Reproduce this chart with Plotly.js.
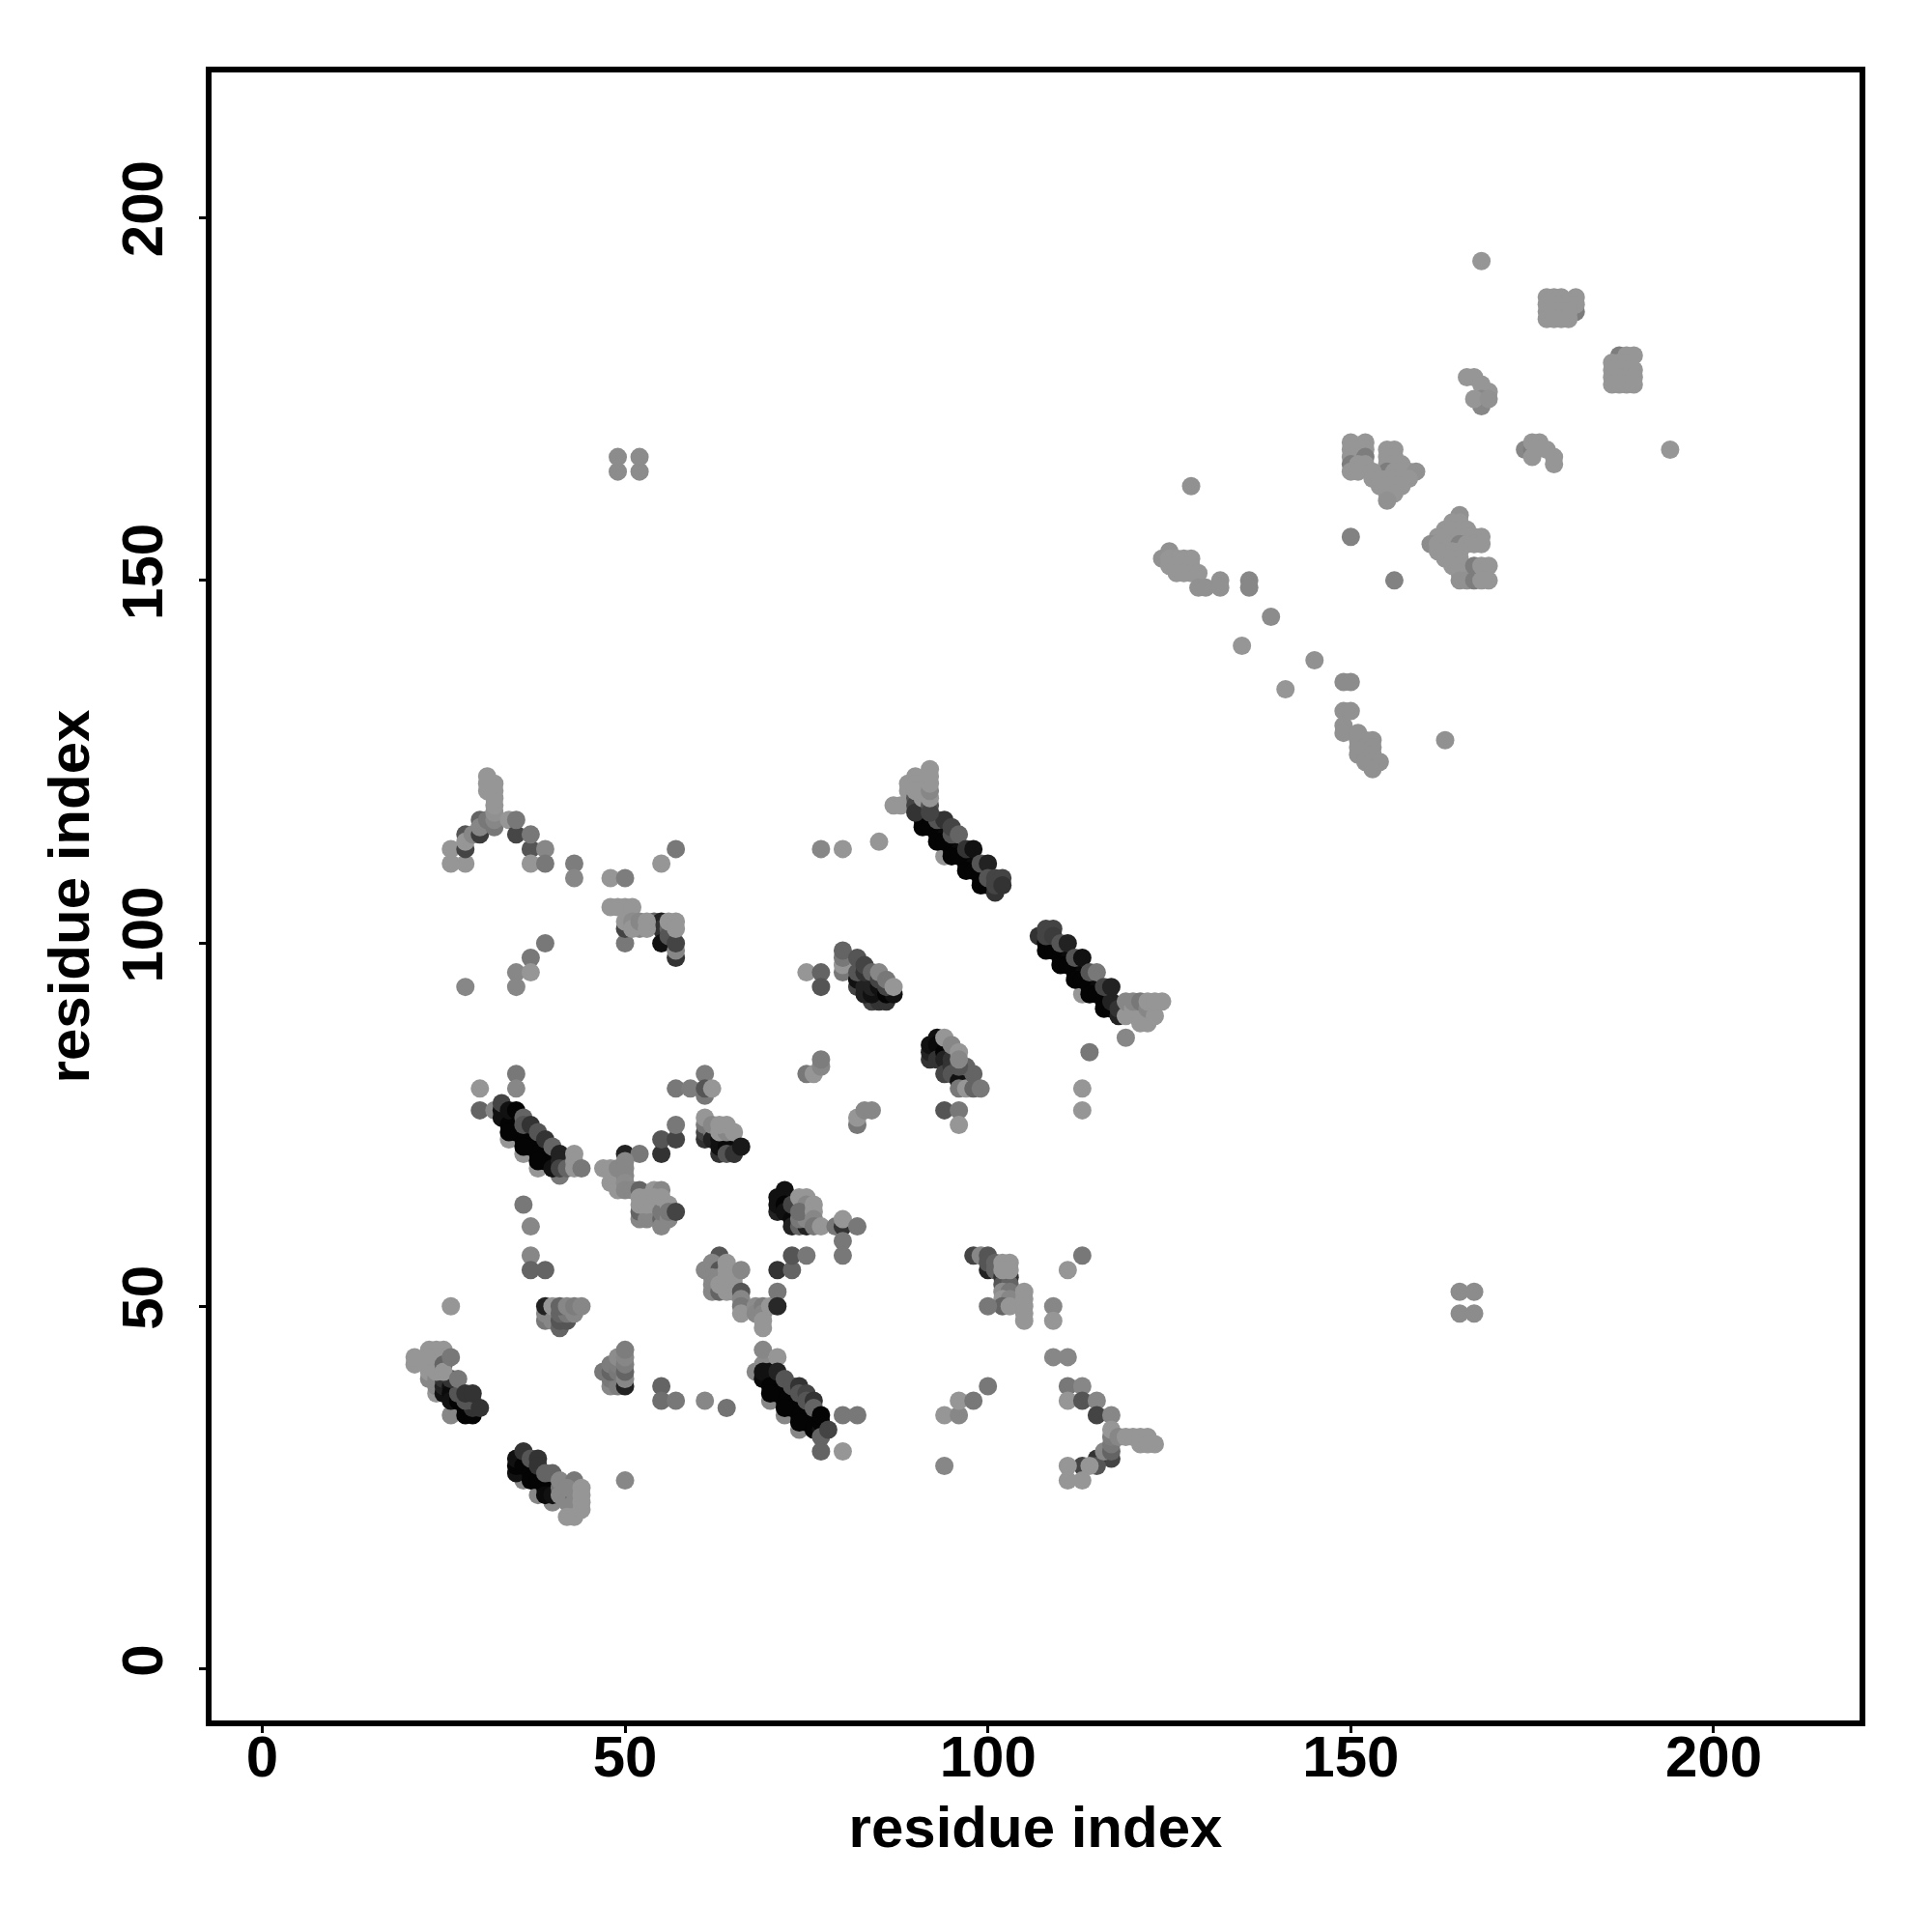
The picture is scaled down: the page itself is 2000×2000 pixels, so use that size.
<!DOCTYPE html>
<html><head><meta charset="utf-8">
<script src="https://cdn.plot.ly/plotly-3.0.1.min.js"></script>
<style>html,body{margin:0;padding:0;background:#fff}</style></head>
<body><div id="chart" style="width:2000px;height:2000px"></div>
<script>
// each entry: [residue i, residue j, grey shade of the contact]
const triTop=[[26,113,150],[26,111,150],[28,111,150],[28,113,68],[28,115,85],[28,114,150],[29,115,135],[30,115,60],[30,117,100],[30,116,135],[31,117,120],[32,116,120],[32,117,135],[32,118,145],[32,119,150],[32,120,150],[32,121,150],[32,122,150],[31,121,150],[31,122,150],[31,123,150],[34,117,150],[35,115,70],[35,117,120],[37,113,85],[37,111,150],[37,115,120],[39,113,135],[39,111,120]];
const sparseA=[[43,111,125],[43,109,135],[48,109,150],[50,109,125],[57,113,120],[55,111,150],[77,113,135],[80,113,150],[85,114,150],[39,100,120],[37,98,120],[35,96,135],[37,96,150],[35,94,135],[28,94,135],[75,96,150],[77,96,100],[77,94,85]];
const clusterC=[[50,100,120],[50,102,68],[52,102,135],[54,103,100],[55,103,34],[55,102,51],[56,102,100],[55,100,17],[56,101,85],[57,98,51],[57,99,135],[57,100,68],[48,105,150],[49,105,150],[50,105,150],[51,105,150],[50,103,150],[51,103,140],[51,102,150],[52,103,135],[53,102,150],[53,103,150],[56,103,150],[57,103,150],[57,102,150]];
const clusterE=[[80,96,120],[80,97,150],[80,98,120],[80,99,100],[82,94,68],[84,92,68],[85,92,51],[86,92,51],[82,95,17],[83,93,34],[83,94,34],[84,93,17],[84,94,34],[85,94,17],[86,93,4],[87,93,17],[82,96,85],[82,98,85],[83,96,51],[83,97,68],[84,96,100],[85,95,68],[86,94,68],[85,96,135],[86,95,120],[87,94,150]];
const bandF=[[94,112,150],[91,118,34],[91,117,17],[93,115,10],[95,113,10],[97,111,10],[99,109,10],[91,116,4],[92,116,4],[93,114,4],[94,114,4],[95,112,4],[96,112,4],[97,110,4],[98,110,4],[99,108,4],[100,108,4],[101,107,51],[93,117,85],[94,117,51],[95,115,85],[95,116,68],[96,115,100],[97,113,51],[98,113,17],[99,111,85],[100,111,34],[100,109,85],[101,108,68],[101,109,68],[102,109,68],[102,108,51],[87,119,150],[88,119,150],[89,122,150],[89,121,150],[90,120,85],[90,119,68],[90,118,51],[90,123,150],[90,122,150],[90,121,150],[91,120,150],[92,119,85],[92,118,68],[92,120,150],[92,121,135],[92,122,150],[92,123,150],[92,124,150]];
const bandG=[[107,101,51],[113,93,150],[108,100,10],[110,98,10],[112,96,10],[114,94,10],[116,92,10],[108,99,4],[109,99,4],[110,97,4],[111,97,4],[112,95,4],[113,95,4],[114,93,4],[115,93,4],[116,91,4],[117,91,4],[117,92,34],[118,90,34],[118,91,51],[108,102,68],[109,102,68],[108,101,68],[109,101,60],[110,100,85],[111,100,34],[112,98,85],[113,98,17],[114,96,85],[115,96,120],[116,94,68],[117,94,34],[119,87,135],[119,90,150],[119,92,135],[120,91,150],[121,89,150],[122,89,150],[120,92,135],[121,92,120],[122,91,135],[122,92,150],[123,90,150],[123,92,150],[124,92,150],[114,85,120],[113,80,150],[113,77,150]];
const clusterH=[[92,84,51],[92,85,34],[92,86,17],[93,87,17],[93,86,10],[93,84,51],[94,85,4],[94,84,34],[95,84,51],[94,82,68],[95,83,51],[95,82,85],[96,81,17],[96,80,120],[97,80,150],[98,80,100],[97,83,100],[98,82,100],[99,80,120],[96,83,85],[94,87,150],[95,86,135],[96,85,150],[96,84,135]];
const sparseI=[[75,82,120],[76,82,150],[77,83,135],[77,84,125],[82,75,120],[82,76,150],[83,77,135],[84,77,135],[94,77,85],[96,77,120],[96,75,150]];
const bandJ=[[35,82,120],[35,80,135],[30,80,150],[30,77,100],[32,77,135],[34,73,150],[36,71,150],[38,69,150],[41,68,120],[34,76,85],[35,75,85],[36,74,85],[37,73,85],[38,72,85],[39,71,85],[40,70,85],[33,77,17],[33,76,17],[34,75,4],[35,74,4],[36,73,4],[37,72,4],[38,71,4],[39,70,4],[34,74,4],[36,72,4],[38,70,4],[40,69,17],[33,78,68],[34,77,17],[35,77,4],[36,76,100],[36,75,85],[37,75,51],[38,74,85],[39,73,51],[40,72,100],[41,71,34],[41,70,34],[41,69,68],[42,69,100],[43,71,150],[43,70,150],[43,69,150],[44,69,120]];
const clusterK=[[50,71,34],[52,71,120],[47,69,150],[48,69,150],[49,68,150],[48,67,150],[49,69,135],[50,70,135],[50,69,135],[50,68,135],[49,66,150],[50,67,140],[50,66,135],[51,66,135],[52,66,100],[54,66,150],[55,66,135],[52,62,135],[52,63,100],[53,62,135],[52,64,150],[52,65,150],[53,65,150],[54,65,150],[53,64,150],[54,64,150],[55,62,100],[55,61,135],[55,63,120],[56,62,135],[56,64,150],[55,65,150],[56,63,120],[57,63,68]];
const sparseL=[[55,71,51],[55,73,85],[57,73,68],[57,75,120],[57,80,120],[59,80,125],[61,82,125],[61,79,120],[61,80,85],[62,80,150]];
const clusterM=[[61,73,51],[61,74,68],[61,75,120],[61,76,150],[62,74,120],[62,73,34],[63,71,51],[63,72,17],[63,73,17],[64,72,10],[64,71,85],[65,71,51],[62,75,135],[63,74,150],[64,74,135],[63,75,150],[64,75,150],[65,74,150],[66,72,25]];
const clusterN=[[71,63,34],[71,64,17],[71,65,17],[72,66,17],[72,64,4],[72,63,17],[73,62,10],[73,61,34],[74,61,100],[75,61,34],[74,62,120],[75,62,135],[73,64,68],[74,65,150],[75,65,150],[75,64,135],[74,63,110],[76,64,150],[76,63,150],[76,62,135],[76,61,120],[77,61,150],[79,61,120],[80,61,51],[80,62,150],[82,61,120],[80,59,120],[80,57,120]];
const sparseO=[[36,64,120],[37,61,135],[37,57,135],[37,55,100],[39,55,100],[26,50,150]];
const clusterP=[[39,48,120],[39,49,135],[39,50,34],[40,48,135],[40,50,150],[41,47,100],[41,48,85],[42,48,85],[41,49,100],[42,49,120],[41,50,100],[42,50,135],[43,49,135],[43,50,125],[44,50,135]];
const clusterQ=[[63,57,85],[61,55,135],[62,56,135],[63,55,85],[64,56,150],[62,54,135],[63,54,135],[62,52,135],[62,53,135],[63,52,100],[63,53,150],[64,52,150],[64,53,150],[64,54,150],[65,52,150],[65,53,150],[65,54,150],[64,55,150],[66,55,135],[66,52,85],[66,51,135],[66,50,120],[66,49,150],[68,50,140],[68,49,135],[69,50,125],[69,49,135],[69,48,150],[69,47,150],[70,50,150],[71,52,120],[71,50,40],[71,55,51],[73,55,100],[73,57,85],[75,57,120]];
const bandR=[[21,42,150],[21,43,150],[24,38,150],[23,40,135],[24,39,135],[23,41,150],[24,40,135],[26,35,135],[25,38,17],[25,39,34],[25,40,51],[26,39,17],[26,38,10],[26,37,17],[27,37,4],[28,36,4],[28,35,4],[29,35,4],[29,36,51],[27,38,85],[28,37,85],[29,37,85],[26,40,51],[23,44,150],[24,44,150],[25,44,150],[23,43,150],[24,43,150],[25,43,150],[23,42,150],[24,42,150],[24,41,150],[25,42,100],[25,41,150],[26,43,120],[27,40,120],[28,38,51],[29,38,51],[30,36,51]];
const bandS=[[36,26,135],[38,24,135],[40,23,135],[35,27,17],[35,28,4],[35,29,17],[36,28,4],[37,27,4],[37,26,4],[38,26,4],[39,25,4],[39,24,10],[40,24,17],[36,30,51],[37,29,85],[38,29,51],[38,28,51],[39,27,100],[40,27,100],[41,25,120],[41,26,135],[41,24,135],[42,24,135],[42,23,135],[43,26,120],[43,24,100],[43,23,135],[42,25,135],[42,21,150],[43,21,150],[44,25,150],[44,24,150],[44,23,150],[44,22,150],[50,26,135]];
const clusterT=[[47,41,120],[48,39,135],[48,40,120],[49,39,125],[48,41,100],[48,42,125],[49,41,120],[49,42,125],[49,43,140],[50,39,34],[50,40,135],[50,41,100],[50,42,125],[50,43,135],[50,44,125],[55,39,100],[55,37,110],[57,37,120],[61,37,135],[64,36,115]];
const bandU=[[68,41,135],[69,42,140],[70,37,135],[72,35,135],[74,33,135],[70,40,85],[71,39,85],[72,38,85],[73,37,85],[74,36,85],[75,35,85],[76,34,85],[69,40,10],[69,41,17],[70,41,17],[70,39,4],[71,38,4],[72,37,4],[73,36,4],[74,35,4],[75,34,4],[70,38,4],[72,36,4],[74,34,4],[76,33,4],[77,33,17],[77,34,4],[69,44,135],[71,43,150],[71,41,34],[72,40,85],[73,39,85],[74,39,51],[74,38,85],[75,38,68],[75,37,85],[76,37,51],[76,36,100],[77,32,100],[77,35,4],[78,33,68],[77,30,100],[80,30,150],[80,35,120],[82,35,120]];
const sparseV=[[94,35,150],[96,35,135],[96,37,150],[98,37,120],[100,39,120],[94,28,135]];
const clusterW=[[98,57,68],[99,57,135],[100,55,34],[100,57,85],[100,56,85],[101,55,100],[101,56,100],[102,54,51],[103,54,51],[102,53,85],[103,53,100],[102,52,140],[103,52,120],[102,51,150],[103,51,135],[102,50,100],[103,50,150],[100,50,120],[102,56,150],[103,56,150],[102,55,150],[103,55,150],[105,52,150],[105,51,150],[105,50,150],[105,49,150],[105,48,150],[111,55,150],[113,57,120],[109,50,135],[109,48,150],[109,43,135],[111,43,135]];
const clusterX=[[111,39,120],[113,39,135],[111,37,150],[113,37,85],[115,37,135],[115,35,68],[117,35,135],[117,29,68],[115,29,51],[115,28,85],[116,30,135],[117,30,100],[117,31,120],[117,32,125],[117,33,150],[113,28,68],[114,28,150],[111,28,150],[111,26,150],[113,26,150],[118,32,135],[119,32,150],[120,32,150],[121,32,150],[122,32,150],[121,31,150],[122,31,150],[123,31,150]];
const farPairs=[[49,165,140],[49,167,140],[52,165,140],[52,167,140],[165,49,140],[167,49,140],[165,52,140],[167,52,140]];
const blockA=[[177,189,150],[178,189,150],[179,189,150],[181,189,150],[177,188,150],[178,188,150],[179,188,150],[180,188,150],[181,187,125],[181,188,150],[177,187,150],[178,187,150],[179,187,150],[180,187,150],[177,186,150],[178,186,150],[179,186,150],[180,186,150]];
const blockB=[[187,181,125],[188,181,150],[189,181,150],[186,180,150],[187,180,150],[188,180,150],[186,179,150],[187,179,150],[188,179,150],[189,179,150],[186,178,150],[187,178,150],[188,178,150],[189,178,150],[186,177,150],[187,177,150],[188,177,150],[189,177,150]];
const clusterC3=[[168,194,150],[166,178,150],[167,178,150],[168,177,150],[169,176,150],[168,174,135],[168,175,135],[167,175,150],[169,175,145],[174,168,135],[175,168,125],[175,169,150],[176,169,150],[175,167,150],[177,168,150],[178,167,150],[178,166,150],[194,168,150]];
const clusterC5=[[150,169,150],[152,169,150],[150,168,150],[152,168,150],[150,167,150],[151,167,150],[152,167,125],[150,166,125],[151,166,150],[152,166,150],[150,165,150],[151,165,150],[155,168,150],[156,168,150],[155,167,150],[156,167,150],[155,166,150],[156,166,150],[157,166,150],[155,165,125],[153,165,150],[156,165,150],[157,165,150],[158,165,150],[159,165,145],[153,164,150],[154,164,150],[155,164,150],[156,164,150],[157,164,150],[158,164,150],[154,163,150],[155,163,150],[156,163,150],[157,163,150],[155,162,150],[156,162,150],[155,161,145],[128,163,145],[150,156,130],[156,150,130]];
const clusterC6=[[165,159,145],[164,158,150],[165,158,150],[163,157,150],[164,157,150],[165,157,150],[166,157,150],[162,156,150],[163,156,150],[164,156,150],[165,156,150],[166,156,150],[167,156,150],[168,156,150],[161,155,140],[162,155,150],[163,155,150],[164,155,150],[165,155,130],[166,155,150],[167,155,150],[168,155,150],[162,154,150],[163,154,150],[164,154,150],[165,154,150],[163,153,150],[164,153,150],[165,153,150],[164,152,150],[165,152,150],[165,151,150],[165,150,145],[166,150,145],[167,152,125],[167,150,125],[168,152,150],[169,152,150],[168,150,150],[169,150,150]];
const clusterC7=[[124,153,145],[125,154,145],[125,153,150],[126,153,150],[127,153,150],[128,153,150],[125,152,150],[126,152,150],[127,152,150],[128,152,150],[126,151,150],[127,151,150],[128,151,150],[129,151,150],[129,149,145],[130,149,145],[132,150,145],[132,149,145],[136,150,135],[136,149,135],[139,145,140],[135,141,150],[145,139,145],[141,135,150],[149,136,140],[150,136,140],[149,132,145],[150,132,145],[149,130,145],[149,129,145],[151,129,145],[151,128,145],[152,128,145],[153,128,145],[151,127,145],[152,127,145],[153,127,145],[151,126,145],[152,126,145],[153,126,145],[152,125,145],[153,125,145],[154,125,145],[153,124,145],[163,128,145]];

const regions=[bandS,bandR,triTop,sparseA,clusterC,clusterE,bandF,bandG,clusterH,sparseI,bandJ,clusterK,sparseL,clusterM,clusterN,sparseO,clusterP,clusterQ,clusterT,bandU,sparseV,clusterW,clusterX,farPairs,blockA,blockB,clusterC3,clusterC5,clusterC6,clusterC7];
const tickValues=[0,50,100,150,200];
const axisTitle='residue index';

const traces=regions.map(r=>({
  type:'scatter',mode:'markers',hoverinfo:'skip',cliponaxis:false,
  x:r.map(p=>p[0]),y:r.map(p=>p[1]),
  marker:{size:19,line:{width:0},opacity:1,color:r.map(p=>`rgb(${p[2]},${p[2]},${p[2]})`)}
}));
const font={family:'"Liberation Sans",Arial,sans-serif',size:60,color:'#000',weight:700};
const titleFont=Object.assign({},font,{size:60});
const axis={
  tickmode:'array',tickvals:tickValues,ticktext:tickValues.map(String),
  ticks:'outside',ticklen:7,tickwidth:3,tickcolor:'#000',
  showline:true,mirror:true,linewidth:6,linecolor:'#000',
  showgrid:false,zeroline:false,tickfont:font
};
Plotly.newPlot('chart',traces,{
  width:2000,height:2000,showlegend:false,
  paper_bgcolor:'#fff',plot_bgcolor:'#fff',
  margin:{l:219.3,r:74.7,t:75,b:219.3,pad:0},
  xaxis:Object.assign({},axis,{range:[-6.975,220.1],ticklabelstandoff:-27,
    title:{text:axisTitle,font:titleFont,standoff:21}}),
  yaxis:Object.assign({},axis,{range:[-7.054,219.98],tickangle:-90,ticklabelstandoff:14,
    title:{text:axisTitle,font:titleFont,standoff:4}})
},{staticPlot:true,displayModeBar:false});
</script></body></html>
